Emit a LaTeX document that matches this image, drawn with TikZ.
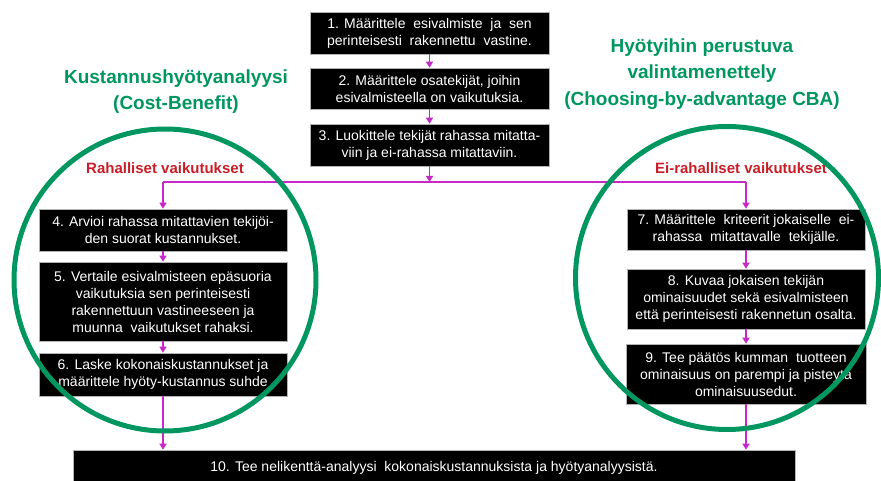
\documentclass[tikz,border=0pt]{standalone}
\usepackage{fontspec}
\setmainfont{Liberation Sans}
\usetikzlibrary{arrows.meta}
\definecolor{cbgreen}{RGB}{0,150,95}
\definecolor{cbred}{RGB}{200,30,40}
\definecolor{cbmag}{RGB}{200,40,200}
\newcommand{\dsp}{\ \ }
\begin{document}
\begin{tikzpicture}[x=1pt,y=-1pt,
  stepbox/.style={fill=black,draw=gray!60,line width=0.6pt,text=white,align=center,inner sep=0pt,
    font=\fontsize{14}{17}\selectfont},
  conn/.style={cbmag,line width=1.3pt},
  arr/.style={conn,-{Triangle[width=7pt,length=6pt]}},
  title/.style={text=cbgreen,font=\fontsize{19}{26.5}\selectfont\bfseries,align=center},
  sublabel/.style={text=cbred,font=\fontsize{15}{18}\selectfont\bfseries},
  ring/.style={draw=cbgreen,line width=5pt}]
\useasboundingbox (0,0) rectangle (881,481);
% boxes
\node[stepbox,minimum width=239pt,minimum height=42pt] (b1) at (429.5,33) {1. Määrittele\dsp esivalmiste\dsp ja\dsp sen\\perinteisesti\dsp rakennettu\dsp vastine.};
\node[stepbox,minimum width=239pt,minimum height=41pt] (b2) at (429.5,88.5) {2. Määrittele osatekijät, joihin\\esivalmisteella on vaikutuksia.};
\node[stepbox,minimum width=239pt,minimum height=42pt] (b3) at (429.5,145) {3. Luokittele tekijät rahassa mitatta-\\viin ja ei-rahassa mitattaviin.};
\node[stepbox,minimum width=248pt,minimum height=42pt] (b4) at (163,230) {4. Arvioi rahassa mitattavien tekijöi-\\den suorat kustannukset.};
\node[stepbox,minimum width=248pt,minimum height=79pt] (b5) at (163,301.5) {5. Vertaile esivalmisteen epäsuoria\\vaikutuksia sen perinteisesti\\rakennettuun vastineeseen ja\\muunna\dsp vaikutukset rahaksi.};
\node[stepbox,minimum width=248pt,minimum height=43pt] (b6) at (163,374.5) {6. Laske kokonaiskustannukset ja\\määrittele hyöty-kustannus suhde};
\node[stepbox,minimum width=238pt,minimum height=41pt] (b7) at (746,229.5) {7. Määrittele\dsp kriteerit jokaiselle\dsp ei-\\rahassa\dsp mitattavalle\dsp tekijälle.};
\node[stepbox,minimum width=238pt,minimum height=60pt] (b8) at (746,299) {8. Kuvaa jokaisen tekijän\\ominaisuudet sekä esivalmisteen\\että perinteisesti rakennetun osalta.};
\node[stepbox,minimum width=240pt,minimum height=60pt] (b9) at (746,374) {9. Tee päätös kumman\dsp tuotteen\\ominaisuus on parempi ja pisteytä\\ominaisuusedut.};
\node[stepbox,minimum width=722pt,minimum height=36pt] (b10) at (434,468) {10. Tee nelikenttä-analyysi\dsp kokonaiskustannuksista ja hyötyanalyysistä.};
% titles
\node[title] (tl) at (176,91.5) {Kustannushyötyanalyysi\\(Cost-Benefit)};
\node[title] (tr) at (702,74) {Hyötyihin perustuva\\valintamenettely\\(Choosing-by-advantage CBA)};
\node[sublabel] (rl) at (165,168) {Rahalliset vaikutukset};
\node[sublabel] (rr) at (741,168) {Ei-rahalliset vaikutukset};
% connectors
\coordinate (j) at (b3.south |- 0,182);
\coordinate (jl) at (b4.north |- j);
\coordinate (jr) at (b7.north |- j);
\draw[arr] (b1) -- (b2);
\draw[arr] (b2) -- (b3);
\draw[arr] (b3) -- (j);
\draw[conn] (jl) -- (jr);
\draw[arr] (jl) -- (b4);
\draw[arr] (jr) -- (b7);
\draw[arr] (b4) -- (b5);
\draw[arr] (b5) -- (b6);
\draw[arr] (b6.south) -- (b6.south |- b10.north);
\draw[arr] (b7) -- (b8);
\draw[arr] (b8) -- (b9);
\draw[arr] (b9.south) -- (b9.south |- b10.north);
% circles
\draw[ring] (165,280) circle[radius=151pt];
\draw[ring] (727,278) circle[radius=151.5pt];
\end{tikzpicture}
\end{document}
